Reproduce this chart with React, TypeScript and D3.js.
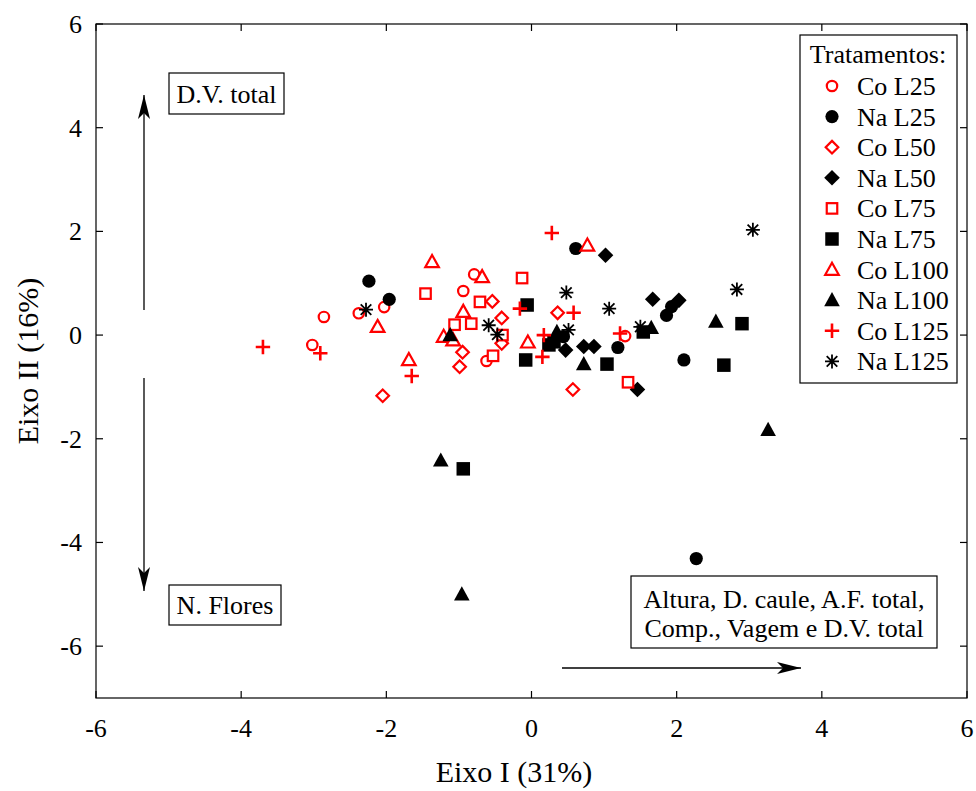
import React from "react";
import * as d3 from "d3";

// ---------- data ----------
const coL25: [number, number][] = [[-2.86,0.35],[-2.38,0.42],[-2.03,0.54],[-3.02,-0.19],[-0.79,1.17],[-0.94,0.85],[-0.62,-0.50],[1.29,-0.02]];
const naL25: [number, number][] = [[-2.24,1.04],[-1.96,0.69],[0.61,1.67],[1.93,0.55],[1.86,0.38],[1.19,-0.24],[2.10,-0.48],[2.27,-4.31],[0.44,-0.03]];
const coL50: [number, number][] = [[-2.05,-1.17],[-0.54,0.65],[-0.41,0.33],[-0.41,-0.16],[-0.95,-0.33],[-0.99,-0.61],[0.36,0.43],[0.57,-1.05]];
const naL50: [number, number][] = [[1.02,1.54],[1.67,0.69],[2.03,0.67],[0.47,-0.29],[0.72,-0.22],[0.86,-0.22],[1.46,-1.05]];
const coL75: [number, number][] = [[-1.46,0.80],[-0.13,1.10],[-0.71,0.64],[-1.06,0.20],[-0.83,0.22],[-0.40,0.0],[-0.53,-0.40],[1.33,-0.91]];
const naL75: [number, number][] = [[-0.06,0.58],[-0.08,-0.48],[0.31,-0.13],[0.24,-0.19],[1.04,-0.56],[1.54,0.06],[2.90,0.22],[2.65,-0.58],[-0.94,-2.58]];
const coL100: [number, number][] = [[-1.37,1.41],[0.77,1.73],[-0.68,1.12],[-2.12,0.16],[-1.69,-0.48],[-0.94,0.45],[-1.21,-0.03],[-1.08,-0.10],[-0.05,-0.14]];
const naL100: [number, number][] = [[-1.12,0.0],[0.35,0.06],[0.72,-0.56],[1.65,0.14],[2.54,0.26],[3.26,-1.83],[-1.25,-2.42],[-0.96,-5.0]];
const coL125: [number, number][] = [[-3.70,-0.23],[-2.91,-0.35],[-1.65,-0.79],[0.28,1.97],[-0.16,0.51],[0.17,0.0],[0.15,-0.42],[0.58,0.43],[1.22,0.03]];
const naL125: [number, number][] = [[-2.28,0.49],[-0.59,0.19],[-0.47,0.01],[0.48,0.82],[0.51,0.10],[1.07,0.51],[1.50,0.16],[2.83,0.88],[3.05,2.03]];

const seriesNames = ["Co L25","Na L25","Co L50","Na L50","Co L75","Na L75","Co L100","Na L100","Co L125","Na L125"];
const seriesData = [coL25, naL25, coL50, naL50, coL75, naL75, coL100, naL100, coL125, naL125];
const seriesShapes = ["circle","circle","diamond","diamond","square","square","triangle","triangle","plus","asterisk"];

const xTicks = [-6, -4, -2, 0, 2, 4, 6];
const yTicks = [-6, -4, -2, 0, 2, 4, 6];

const FONT = "'Liberation Serif', 'Times New Roman', serif";
const RED = "#ff0000";
const FS = 26;
const FT = 30;

function Marker({ shape, hollow, x, y }: { shape: string; hollow: boolean; x: number; y: number }) {
  const col = hollow ? RED : "#000";
  const fill = hollow ? "#fff" : "#000";
  const sw = hollow ? 2.2 : 0;
  if (shape === "circle") {
    return <circle cx={x} cy={y} r={hollow ? 5.2 : 6.6} fill={fill} stroke={col} strokeWidth={sw} />;
  }
  if (shape === "diamond") {
    const r = hollow ? 6.3 : 7.8;
    return <path d={`M${x},${y - r}L${x + r},${y}L${x},${y + r}L${x - r},${y}Z`} fill={fill} stroke={col} strokeWidth={sw} />;
  }
  if (shape === "square") {
    const s = hollow ? 10.5 : 13.5;
    return <rect x={x - s / 2} y={y - s / 2} width={s} height={s} fill={fill} stroke={col} strokeWidth={sw} />;
  }
  if (shape === "triangle") {
    const h = hollow ? 11.5 : 13.5;
    const w = hollow ? 6.8 : 7.8;
    return <path d={`M${x},${y - h * 0.6}L${x + w},${y + h * 0.45}L${x - w},${y + h * 0.45}Z`} fill={fill} stroke={col} strokeWidth={sw} />;
  }
  if (shape === "plus") {
    const a = 7.2;
    return <path d={`M${x - a},${y}H${x + a}M${x},${y - a}V${y + a}`} stroke={RED} strokeWidth={2.6} fill="none" />;
  }
  // asterisk
  const a = 7, b = 5.3;
  return (
    <path
      d={`M${x},${y - a}V${y + a}M${x - a},${y}H${x + a}M${x - b},${y - b}L${x + b},${y + b}M${x - b},${y + b}L${x + b},${y - b}`}
      stroke="#000" strokeWidth={1.8} fill="none"
    />
  );
}

export default function App() {
  const W = 976, H = 791;
  const left = 96, right = 967, top = 24, bottom = 698;
  const x = d3.scaleLinear().domain([-6, 6]).range([left, right]);
  const y = d3.scaleLinear().domain([-7, 6]).range([bottom, top]);
  const tl = 7;

  const legendRows = seriesNames.map((n, i) => ({ n, i, cy: 86 + i * 30.6 }));

  return (
    <svg width={W} height={H} style={{ position: "absolute", left: 0, top: 0, background: "#fff" }} fontFamily={FONT}>
      <rect x={0} y={0} width={W} height={H} fill="#fff" />
      <defs>
        <marker id="ah" viewBox="0 0 24 12" refX="24" refY="6" markerWidth="24" markerHeight="12" markerUnits="userSpaceOnUse" orient="auto">
          <path d="M0,0L24,6L0,12L6,6Z" fill="#000" />
        </marker>
      </defs>

      {/* frame */}
      <rect x={left} y={top} width={right - left} height={bottom - top} fill="none" stroke="#000" strokeWidth={1.2} />

      {/* ticks */}
      {xTicks.map((t) => (
        <g key={"xt" + t}>
          <line x1={x(t)} x2={x(t)} y1={bottom} y2={bottom - tl} stroke="#000" strokeWidth={1.2} />
          <line x1={x(t)} x2={x(t)} y1={top} y2={top + tl} stroke="#000" strokeWidth={1.2} />
          <text x={x(t)} y={737} fontSize={FS} textAnchor="middle" fill="#000">{t}</text>
        </g>
      ))}
      {yTicks.map((t) => (
        <g key={"yt" + t}>
          <line x1={left} x2={left + tl} y1={y(t)} y2={y(t)} stroke="#000" strokeWidth={1.2} />
          <line x1={right} x2={right - tl} y1={y(t)} y2={y(t)} stroke="#000" strokeWidth={1.2} />
          <text x={82} y={y(t) + 9} fontSize={FS} textAnchor="end" fill="#000">{t}</text>
        </g>
      ))}

      {/* axis titles */}
      <text x={514} y={782} fontSize={FT} textAnchor="middle" fill="#000">Eixo I (31%)</text>
      <text transform={`translate(38,${(top + bottom) / 2}) rotate(-90)`} fontSize={FT} textAnchor="middle" fill="#000">Eixo II (16%)</text>

      {/* arrows */}
      <line x1={144} y1={310} x2={144} y2={95} stroke="#000" strokeWidth={1.3} markerEnd="url(#ah)" />
      <line x1={144} y1={378} x2={144} y2={591} stroke="#000" strokeWidth={1.3} markerEnd="url(#ah)" />
      <line x1={562} y1={668} x2={801} y2={668} stroke="#000" strokeWidth={1.3} markerEnd="url(#ah)" />

      {/* annotation boxes */}
      <rect x={169} y={73} width={115} height={41} fill="#fff" stroke="#000" strokeWidth={1.2} />
      <text x={226.5} y={103} fontSize={FS} textAnchor="middle" fill="#000">D.V. total</text>
      <rect x={169} y={585} width={112} height={40} fill="#fff" stroke="#000" strokeWidth={1.2} />
      <text x={225} y={614} fontSize={FS} textAnchor="middle" fill="#000">N. Flores</text>
      <rect x={631} y={576} width={306} height={72} fill="#fff" stroke="#000" strokeWidth={1.2} />
      <text x={784} y={608} fontSize={FS} textAnchor="middle" fill="#000">Altura, D. caule, A.F. total,</text>
      <text x={784} y={637} fontSize={FS} textAnchor="middle" fill="#000">Comp., Vagem e D.V. total</text>

      {/* points */}
      {seriesData.map((arr, si) =>
        arr.map((p, pi) => (
          <Marker key={si + "-" + pi} shape={seriesShapes[si]} hollow={si % 2 === 0} x={x(p[0])} y={y(p[1])} />
        ))
      )}

      {/* legend */}
      <rect x={800} y={35} width={157} height={348} fill="#fff" stroke="#000" strokeWidth={1.2} />
      <text x={878} y={63} fontSize={FS} textAnchor="middle" fill="#000">Tratamentos:</text>
      {legendRows.map((r) => (
        <g key={"lg" + r.i}>
          <Marker shape={seriesShapes[r.i]} hollow={r.i % 2 === 0} x={832} y={r.cy} />
          <text x={857} y={r.cy + 9} fontSize={FS} fill="#000">{r.n}</text>
        </g>
      ))}
    </svg>
  );
}
